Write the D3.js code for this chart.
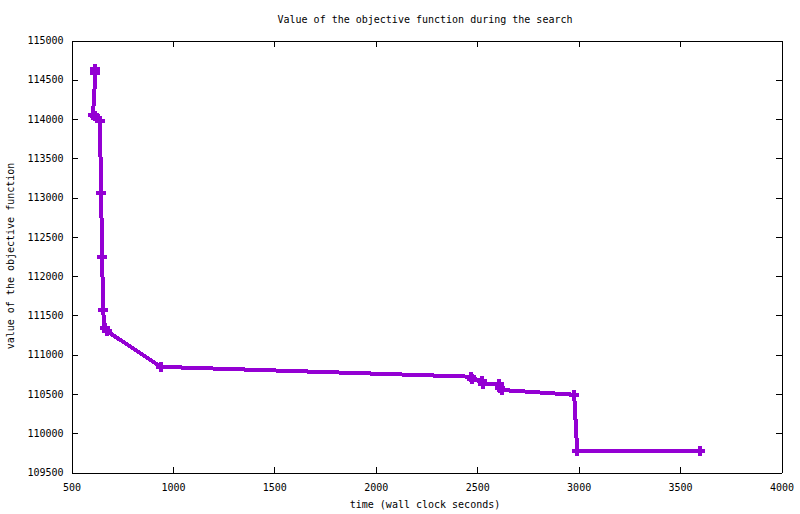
<!DOCTYPE html>
<html>
<head>
<meta charset="utf-8">
<script src="https://cdn.jsdelivr.net/npm/d3@7"></script>
<style>
  body { margin: 0; background: #fff; }
  svg text { font-family: "DejaVu Sans Mono", "Liberation Mono", monospace; font-size: 10px; fill: #000; }
</style>
</head>
<body>
<svg id="chart"></svg>
<script>
// search trace: wall clock seconds vs objective value
const times = [618, 618, 606, 618, 628, 640, 646, 651, 656, 663, 675, 940,
  2467, 2472, 2524, 2530, 2608, 2614, 2623, 2978, 2993, 3600];
const values = [114640, 114590, 114050, 114035, 114015, 113975, 113060, 112240, 111570, 111340, 111300, 110845,
  110720, 110690, 110665, 110630, 110625, 110575, 110550, 110490, 109770, 109780];
const xTicks = [500, 1000, 1500, 2000, 2500, 3000, 3500, 4000];
const yTicks = [109500, 110000, 110500, 111000, 111500, 112000, 112500, 113000, 113500, 114000, 114500, 115000];

const title = 'Value of the objective function during the search';
const xLabel = 'time (wall clock seconds)';
const yLabel = 'value of the objective function';

const W = 800, H = 514;
const margin = { top: 40, right: 19, bottom: 42, left: 71 };
const width = W - margin.left - margin.right;
const height = H - margin.top - margin.bottom;
const color = '#9400d3';

const svg = d3.select('#chart').attr('width', W).attr('height', H);
const g = svg.append('g').attr('transform', `translate(${margin.left + 0.5}, ${margin.top + 0.5})`);

const x = d3.scaleLinear().domain([500, 4000]).range([0, width]);
const y = d3.scaleLinear().domain([109500, 115000]).range([height, 0]);

// axes with inward ticks, mirrored on top/right
const tick = 6;
const fmt = d3.format('d');
g.append('g').attr('transform', `translate(0, ${height})`)
  .call(d3.axisBottom(x).tickValues(xTicks).tickFormat(fmt).tickSizeInner(-tick).tickSizeOuter(0).tickPadding(11));
g.append('g')
  .call(d3.axisTop(x).tickValues(xTicks).tickSizeInner(-tick).tickSizeOuter(0).tickFormat(''));
g.append('g')
  .call(d3.axisLeft(y).tickValues(yTicks).tickFormat(fmt).tickSizeInner(-tick).tickSizeOuter(0).tickPadding(8));
g.append('g').attr('transform', `translate(${width}, 0)`)
  .call(d3.axisRight(y).tickValues(yTicks).tickSizeInner(-tick).tickSizeOuter(0).tickFormat(''));

g.selectAll('.domain, .tick line').attr('stroke', '#000').attr('shape-rendering', 'crispEdges');
g.selectAll('.tick text').attr('font-family', null).attr('font-size', null);

// data line
const pts = times.map((t, i) => [t, values[i]]);
g.append('path')
  .datum(pts)
  .attr('fill', 'none')
  .attr('stroke', color)
  .attr('stroke-width', 4)
  .attr('shape-rendering', 'crispEdges')
  .attr('d', d3.line().x(d => x(d[0])).y(d => y(d[1])));

// plus markers
const arm = 5;
g.append('g').selectAll('path')
  .data(pts)
  .join('path')
    .attr('fill', 'none')
    .attr('stroke', color)
    .attr('stroke-width', 4)
    .attr('shape-rendering', 'crispEdges')
    .attr('d', d => {
      const cx = x(d[0]), cy = y(d[1]);
      return `M${cx - arm},${cy}H${cx + arm}M${cx},${cy - arm}V${cy + arm}`;
    });

svg.append('text')
  .attr('x', 425).attr('y', 23)
  .attr('text-anchor', 'middle')
  .text(title);

svg.append('text')
  .attr('x', 425).attr('y', 508)
  .attr('text-anchor', 'middle')
  .text(xLabel);

svg.append('text')
  .attr('transform', 'translate(14, 256) rotate(-90)')
  .attr('text-anchor', 'middle')
  .text(yLabel);
</script>
</body>
</html>
